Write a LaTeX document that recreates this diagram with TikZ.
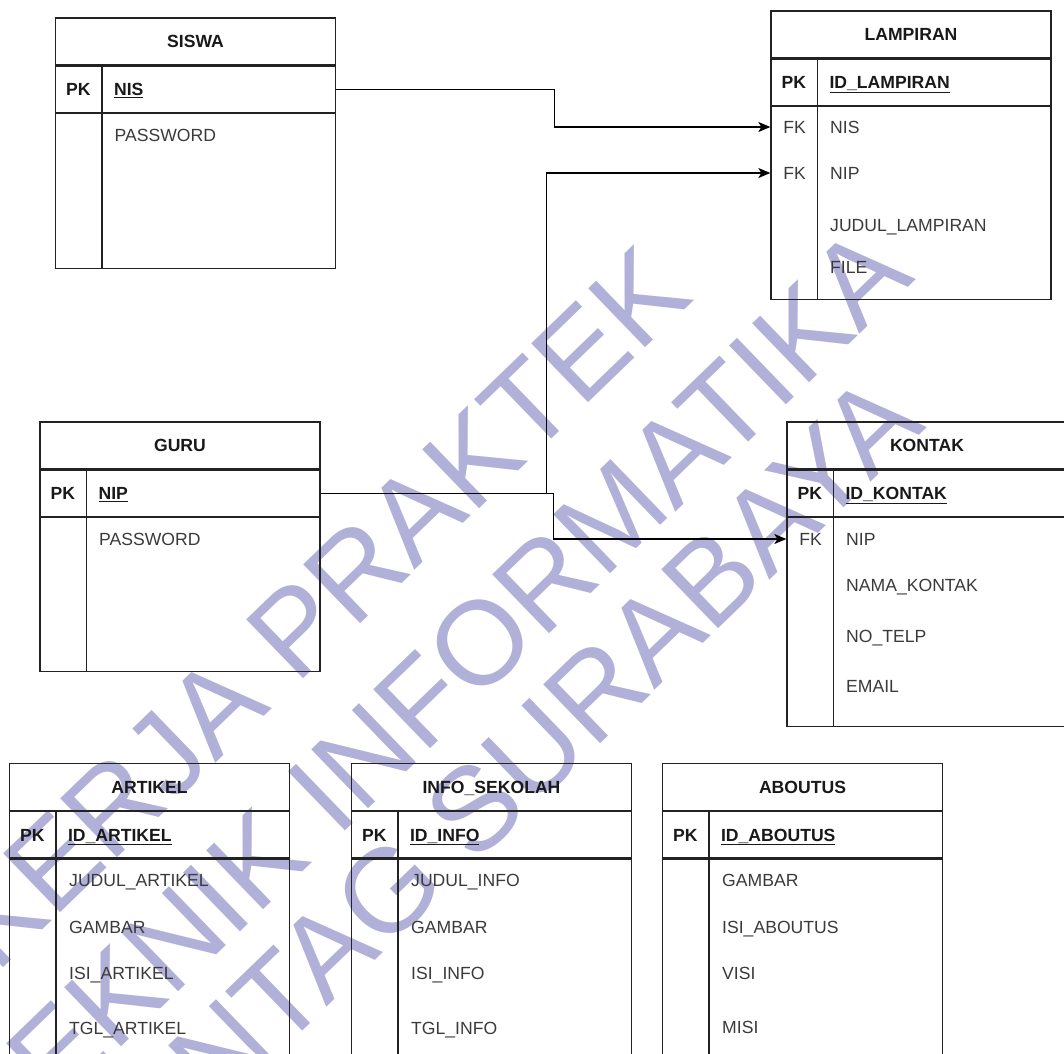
\documentclass[tikz,border=0pt]{standalone}
\usepackage{fontspec}
\setmainfont{Liberation Sans}
\usetikzlibrary{arrows.meta, positioning, calc}
\definecolor{linegray}{HTML}{222222}
\definecolor{fieldgray}{HTML}{3A3A3A}
\definecolor{wmblue}{RGB}{176,176,216}

\begin{document}
\begin{tikzpicture}[
    x=1pt, y=-1pt,
    every node/.style={font=\fontsize{17.6}{20}\selectfont},
    tableline/.style={draw=linegray, line width=1.3pt},
    tablehead/.style={rectangle, tableline, minimum width=280pt, minimum height=47pt, inner sep=0pt, text height=12.6pt, text depth=0pt, text=black!90, font=\fontsize{17.6}{20}\selectfont\bfseries},
    keyrow/.style={rectangle, tableline, minimum width=280pt, minimum height=46pt, inner sep=0pt},
    bodybox/.style={rectangle, tableline, minimum width=280pt, inner sep=0pt},
    keytext/.style={inner sep=0pt, text height=12.6pt, text depth=0pt, text=black!90, font=\fontsize{17.6}{20}\selectfont\bfseries},
    fktext/.style={inner sep=0pt, text height=12.6pt, text depth=0pt, text=fieldgray},
    pkname/.style={anchor=west, inner sep=0pt, text height=12.6pt, text depth=0pt, text=black!90, font=\fontsize{17.6}{20}\selectfont\bfseries},
    field/.style={anchor=west, inner sep=0pt, text height=12.6pt, text depth=0pt, text=fieldgray},
    arrow/.style={-{Stealth[length=12pt, width=10pt, inset=3pt]}, draw=black, line width=1.3pt},
    watermark/.style={inner sep=0pt, rotate=44, text=wmblue, font=\fontsize{119}{130}\selectfont}
]
\useasboundingbox (0,0) rectangle (1064,1053);
\clip (0,0) rectangle (1064,1053);

% watermark
\node[watermark] (wm1) at (318,608) {KERJA PRAKTEK};
\node[watermark] (wm2) at (432,690) {TEKNIK INFORMATIKA};
\node[watermark] (wm3) at (514,770) {UNTAG SURABAYA};

% SISWA
\node[tablehead] (siswa) at (195.5,41.5) {SISWA};
\node[keyrow, below=0pt of siswa] (siswapk) {};
\node[bodybox, minimum height=155pt, below=0pt of siswapk] (siswabody) {};
\draw[tableline] ([xshift=47pt]siswapk.north west) -- ([xshift=47pt]siswabody.south west);
\node[keytext] (siswakey) at ([xshift=23.5pt]siswapk.west) {PK};
\node[pkname] (nis) at ([xshift=59pt]siswapk.west) {\underline{NIS}};
\node[field] (siswapass) at (114.5,135) {PASSWORD};

% LAMPIRAN
\node[tablehead] (lampiran) at (911,34.5) {LAMPIRAN};
\node[keyrow, below=0pt of lampiran] (lampiranpk) {};
\node[bodybox, minimum height=193pt, below=0pt of lampiranpk] (lampiranbody) {};
\draw[tableline] ([xshift=47pt]lampiranpk.north west) -- ([xshift=47pt]lampiranbody.south west);
\node[keytext] (lampirankey) at ([xshift=23.5pt]lampiranpk.west) {PK};
\node[pkname] (idlampiran) at ([xshift=59pt]lampiranpk.west) {\underline{ID\_LAMPIRAN}};
\node[fktext] (lampfk1) at (794.5,127) {FK};
\node[field] (lampnis) at (830,127) {NIS};
\node[fktext] (lampfk2) at (794.5,173) {FK};
\node[field] (lampnip) at (830,173) {NIP};
\node[field] (lampjudul) at (830,225) {JUDUL\_LAMPIRAN};
\node[field] (lampfile) at (830,267) {FILE};

% GURU
\node[tablehead] (guru) at (180,445.5) {GURU};
\node[keyrow, below=0pt of guru] (gurupk) {};
\node[bodybox, minimum height=154pt, below=0pt of gurupk] (gurubody) {};
\draw[tableline] ([xshift=47pt]gurupk.north west) -- ([xshift=47pt]gurubody.south west);
\node[keytext] (gurukey) at ([xshift=23.5pt]gurupk.west) {PK};
\node[pkname] (nip) at ([xshift=59pt]gurupk.west) {\underline{NIP}};
\node[field] (gurupass) at (99,539) {PASSWORD};

% KONTAK
\node[tablehead] (kontak) at (927,445.5) {KONTAK};
\node[keyrow, below=0pt of kontak] (kontakpk) {};
\node[bodybox, minimum height=209pt, below=0pt of kontakpk] (kontakbody) {};
\draw[tableline] ([xshift=47pt]kontakpk.north west) -- ([xshift=47pt]kontakbody.south west);
\node[keytext] (kontakkey) at ([xshift=23.5pt]kontakpk.west) {PK};
\node[pkname] (idkontak) at ([xshift=59pt]kontakpk.west) {\underline{ID\_KONTAK}};
\node[fktext] (kontakfk) at (810.5,539) {FK};
\node[field] (kontaknip) at (846,539) {NIP};
\node[field] (kontaknama) at (846,585) {NAMA\_KONTAK};
\node[field] (kontaktelp) at (846,636) {NO\_TELP};
\node[field] (kontakemail) at (846,686) {EMAIL};

% ARTIKEL
\node[tablehead] (artikel) at (149.5,787) {ARTIKEL};
\node[keyrow, below=0pt of artikel] (artikelpk) {};
\node[bodybox, minimum height=243pt, below=0pt of artikelpk] (artikelbody) {};
\draw[tableline] ([xshift=47pt]artikelpk.north west) -- ([xshift=47pt]artikelbody.south west);
\node[keytext] (artikelkey) at ([xshift=23.5pt]artikelpk.west) {PK};
\node[pkname] (idartikel) at ([xshift=59pt]artikelpk.west) {\underline{ID\_ARTIKEL}};
\node[field] (artjudul) at (69,880) {JUDUL\_ARTIKEL};
\node[field] (artgambar) at (69,927) {GAMBAR};
\node[field] (artisi) at (69,973) {ISI\_ARTIKEL};
\node[field] (arttgl) at (69,1028) {TGL\_ARTIKEL};

% INFO_SEKOLAH
\node[tablehead] (info) at (491.5,787) {INFO\_SEKOLAH};
\node[keyrow, below=0pt of info] (infopk) {};
\node[bodybox, minimum height=243pt, below=0pt of infopk] (infobody) {};
\draw[tableline] ([xshift=47pt]infopk.north west) -- ([xshift=47pt]infobody.south west);
\node[keytext] (infokey) at ([xshift=23.5pt]infopk.west) {PK};
\node[pkname] (idinfo) at ([xshift=59pt]infopk.west) {\underline{ID\_INFO}};
\node[field] (infojudul) at (411,880) {JUDUL\_INFO};
\node[field] (infogambar) at (411,927) {GAMBAR};
\node[field] (infoisi) at (411,973) {ISI\_INFO};
\node[field] (infotgl) at (411,1028) {TGL\_INFO};

% ABOUTUS
\node[tablehead] (aboutus) at (802.5,787) {ABOUTUS};
\node[keyrow, below=0pt of aboutus] (aboutuspk) {};
\node[bodybox, minimum height=243pt, below=0pt of aboutuspk] (aboutusbody) {};
\draw[tableline] ([xshift=47pt]aboutuspk.north west) -- ([xshift=47pt]aboutusbody.south west);
\node[keytext] (aboutuskey) at ([xshift=23.5pt]aboutuspk.west) {PK};
\node[pkname] (idaboutus) at ([xshift=59pt]aboutuspk.west) {\underline{ID\_ABOUTUS}};
\node[field] (aboutgambar) at (722,880) {GAMBAR};
\node[field] (aboutisi) at (722,927) {ISI\_ABOUTUS};
\node[field] (aboutvisi) at (722,973) {VISI};
\node[field] (aboutmisi) at (722,1027) {MISI};

% relasi
\draw[arrow] (siswapk.east) -- ++(218,0) |- (lampiranbody.west |- lampnis);
\draw[arrow] (gurupk.east) -- ++(226,0) |- (lampiranbody.west |- lampnip);
\draw[arrow] (gurupk.east) -- ++(233,0) |- (kontakbody.west |- kontaknip);

\end{tikzpicture}
\end{document}
